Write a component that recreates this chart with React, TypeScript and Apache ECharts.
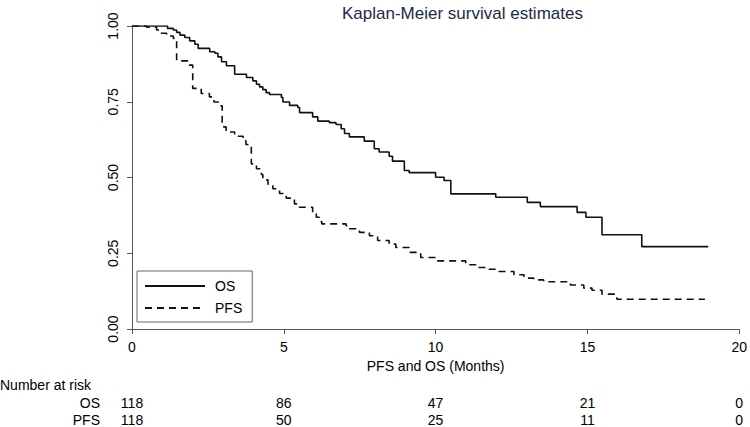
import React, { useEffect, useRef } from 'react';
import * as echarts from 'echarts';

const chartTitle = 'Kaplan-Meier survival estimates';
const xAxisName = 'PFS and OS (Months)';
const xTicks = [0, 5, 10, 15, 20];

const osTime = [0, 1.17, 1.36, 1.47, 1.58, 1.74, 1.9, 2.07, 2.18, 2.56, 2.73, 2.83, 2.95, 3.11, 3.38, 3.77, 3.98, 4.1, 4.2, 4.31, 4.42, 4.53, 4.92, 4.97, 5.19, 5.46, 5.52, 5.95, 6.12, 6.5, 6.72, 6.89, 7.0, 7.16, 7.65, 7.98, 8.14, 8.47, 8.58, 8.97, 9.13, 10.0, 10.28, 10.5, 11.98, 13.02, 13.45, 14.66, 14.95, 15.48, 16.79, 18.98];
const osSurv = [1, 0.992, 0.987, 0.979, 0.97, 0.962, 0.951, 0.94, 0.926, 0.915, 0.91, 0.898, 0.882, 0.869, 0.841, 0.83, 0.819, 0.808, 0.799, 0.79, 0.78, 0.774, 0.764, 0.749, 0.738, 0.731, 0.714, 0.7, 0.686, 0.681, 0.675, 0.661, 0.645, 0.634, 0.62, 0.595, 0.584, 0.57, 0.554, 0.523, 0.516, 0.501, 0.49, 0.446, 0.435, 0.418, 0.404, 0.385, 0.369, 0.311, 0.272, 0.272];

const pfsTime = [0, 0.48, 0.81, 0.97, 1.14, 1.36, 1.47, 1.85, 2.0, 2.28, 2.55, 2.7, 2.9, 2.97, 3.1, 3.38, 3.66, 3.75, 3.93, 4.1, 4.26, 4.31, 4.48, 4.64, 4.86, 5.08, 5.35, 5.46, 5.95, 6.07, 6.17, 6.25, 7.05, 7.16, 7.49, 7.82, 8.09, 8.47, 8.69, 9.13, 9.51, 10.0, 10.99, 11.32, 11.7, 12.09, 12.58, 12.91, 13.23, 13.56, 14.44, 14.88, 15.15, 15.48, 15.97, 18.87];
const pfsSurv = [1, 0.996, 0.987, 0.976, 0.967, 0.959, 0.885, 0.871, 0.794, 0.777, 0.766, 0.749, 0.737, 0.667, 0.65, 0.636, 0.623, 0.609, 0.545, 0.529, 0.51, 0.492, 0.478, 0.463, 0.447, 0.432, 0.413, 0.402, 0.38, 0.369, 0.355, 0.347, 0.341, 0.331, 0.319, 0.308, 0.292, 0.28, 0.269, 0.253, 0.236, 0.225, 0.212, 0.203, 0.197, 0.19, 0.179, 0.168, 0.162, 0.156, 0.145, 0.135, 0.128, 0.115, 0.098, 0.098];

const riskTitle = 'Number at risk';
const riskRowNames = ['OS', 'PFS'];
const riskTimes = [0, 5, 10, 15, 20];
const osAtRisk = [118, 86, 47, 21, 0];
const pfsAtRisk = [118, 50, 25, 11, 0];

export default function App() {
  const ref = useRef<HTMLDivElement>(null);
  useEffect(() => {
    document.body.style.margin = '0';
    const chart = echarts.init(ref.current!, null, { renderer: 'svg' });
    const font = '"Liberation Sans", Arial, sans-serif';
    const axisColor = '#555';
    chart.setOption({
      animation: false,
      backgroundColor: '#fff',
      title: {
        text: chartTitle,
        left: 337,
        top: 0,
        textStyle: { fontFamily: font, fontSize: 17, fontWeight: 'normal', color: '#1c2a48' },
      },
      grid: { left: 132, right: 9, top: 26, bottom: 98, containLabel: false },
      legend: {
        orient: 'vertical',
        left: 137,
        top: 271,
        itemWidth: 60,
        itemHeight: 14,
        itemGap: 8,
        padding: [8, 10, 7, 7],
        borderColor: '#666',
        borderWidth: 1,
        backgroundColor: '#fff',
        itemStyle: { opacity: 0, color: 'transparent', borderWidth: 0 },
        textStyle: { fontFamily: font, fontSize: 14, color: '#000', padding: [0, 0, 0, 5] },
        data: ['OS', 'PFS'],
      },
      xAxis: {
        type: 'value',
        min: 0,
        max: 20,
        interval: 5,
        name: xAxisName,
        nameLocation: 'middle',
        nameGap: 30,
        nameTextStyle: { fontFamily: font, fontSize: 14, color: '#000' },
        axisLine: { show: true, onZero: false, lineStyle: { color: axisColor, width: 1 } },
        axisTick: { show: true, length: 5, lineStyle: { color: axisColor } },
        axisLabel: { fontFamily: font, fontSize: 14, color: '#000', margin: 11, formatter: (v: number) => (xTicks.includes(v) ? String(v) : '') },
        splitLine: { show: false },
      },
      yAxis: {
        type: 'value',
        min: 0,
        max: 1,
        interval: 0.25,
        axisLine: { show: true, lineStyle: { color: axisColor, width: 1 } },
        axisTick: { show: true, length: 5, lineStyle: { color: axisColor } },
        axisLabel: { fontFamily: font, fontSize: 14, color: '#000', rotate: 90, margin: 12, formatter: (v: number) => v.toFixed(2) },
        splitLine: { show: false },
      },
      series: [
        {
          name: 'OS',
          type: 'line',
          step: 'end',
          symbol: 'none',
          lineStyle: { color: '#111', width: 1.6, type: 'solid' },
          itemStyle: { color: '#111' },
          data: osTime.map((t, i) => [t, osSurv[i]]),
        },
        {
          name: 'PFS',
          type: 'line',
          step: 'end',
          symbol: 'none',
          lineStyle: { color: '#111', width: 1.6, type: [7, 5] },
          itemStyle: { color: '#111' },
          data: pfsTime.map((t, i) => [t, pfsSurv[i]]),
        },
      ],
    });

    const textStyle = { fontFamily: font, fontSize: 14, fill: '#000' };
    const rows = [osAtRisk, pfsAtRisk];
    const rowY = [403, 420];
    const elements: any[] = [
      { type: 'text', x: 0, y: 385, style: { ...textStyle, text: riskTitle, align: 'left', verticalAlign: 'middle' } },
    ];
    riskRowNames.forEach((name, i) => {
      elements.push({ type: 'text', x: 100, y: rowY[i], style: { ...textStyle, text: name, align: 'right', verticalAlign: 'middle' } });
    });
    riskTimes.forEach((t, j) => {
      const px = chart.convertToPixel({ xAxisIndex: 0 }, t) as number;
      rows.forEach((row, i) => {
        elements.push({ type: 'text', x: px, y: rowY[i], style: { ...textStyle, text: String(row[j]), align: 'center', verticalAlign: 'middle' } });
      });
    });
    chart.setOption({ graphic: elements });
    return () => chart.dispose();
  }, []);
  return <div ref={ref} style={{ width: 750, height: 427 }} />;
}
